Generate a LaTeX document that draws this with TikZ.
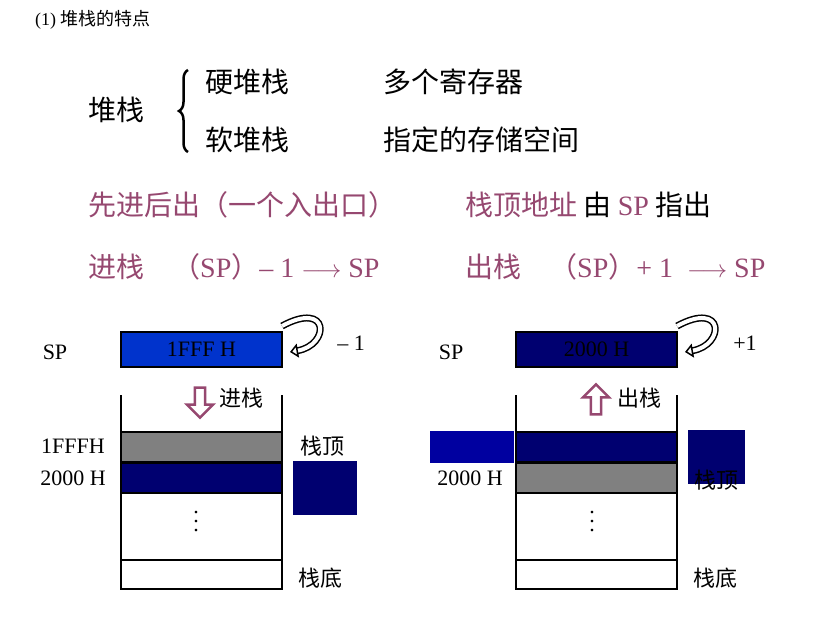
\documentclass[tikz,border=0pt]{standalone}
\usepackage{fontspec}
\setmainfont{Liberation Serif}
\newfontfamily\cjk{Noto Sans CJK SC}
\usetikzlibrary{arrows.meta}
\usetikzlibrary{positioning}
\usetikzlibrary{shapes.arrows}
\usetikzlibrary{decorations.pathreplacing}
\definecolor{plum}{RGB}{150,72,112}
\definecolor{regblue}{RGB}{0,51,204}
\definecolor{navy}{RGB}{0,0,112}
\definecolor{midblue}{RGB}{0,0,160}
\begin{document}
\begin{tikzpicture}
        [x=1pt,y=-1pt,
        big/.style={font=\fontsize{28}{30}\selectfont\cjk,anchor=west,inner sep=0},
        lbl/.style={font=\fontsize{22}{24}\selectfont,inner sep=0},
        dots/.style={font=\fontsize{22}{9}\selectfont,align=center,inner sep=0},
        reg/.style={rectangle,draw=black,line width=2.5pt,minimum width=161pt,minimum height=35pt,inner sep=0,font=\fontsize{22}{24}\selectfont},
        cell/.style={rectangle,draw=black,line width=2.5pt,minimum width=161pt,minimum height=30pt,inner sep=0},
        wall/.style={line width=2.5pt},
        hollow/.style={single arrow,draw=plum,fill=white,line width=2.5pt,minimum height=30pt,minimum width=26pt,single arrow head extend=5pt,inner sep=2pt},
        loop/.style={double=white,double distance=4pt,line width=1.5pt,-{Triangle[open,length=8pt,width=14pt]}}]
\useasboundingbox (0,0) rectangle (824,631);

% Heading %
\node[anchor=west,inner sep=0,font=\fontsize{18}{20}\selectfont] (title) at (35,20) {(1) {\cjk 堆栈的特点}};
\node[big] (dz) at (88,110) {堆栈};
\draw[line width=2.5pt,decorate,decoration={brace,amplitude=9pt,mirror}] (188,70) -- (188,152);
\node[big] (hard) at (205,82) {硬堆栈};
\node[big] (soft) at (205,140) {软堆栈};
\node[big] (regs) at (383,82) {多个寄存器};
\node[big] (mem) at (383,140) {指定的存储空间};
\node[big,text=plum] (lifo) at (88,205) {先进后出（一个入出口）};
\node[big] (top) at (465,205) {\textcolor{plum}{栈顶地址} 由 \textcolor{plum}{\rmfamily SP} 指出};
\node[big,text=plum] (push) at (88,267) {进栈\quad（{\rmfamily SP}）{\rmfamily – 1 $\longrightarrow$ SP}};
\node[big,text=plum] (pop) at (465,267) {出栈\quad（{\rmfamily SP}）{\rmfamily + 1 \ $\longrightarrow$ SP}};

% Left stack %
\node[lbl] (spl) at (55,352) {SP};
\node[reg,fill=regblue] (rl) at (201.5,349.5) {1FFF H};
\draw[loop] (282,326) .. controls (330,300) and (330,345) .. (290,352);
\node[lbl] (ml) at (351,343) {– 1};
\node[hollow,rotate=-90] (al) at (200,400) {};
\node[lbl,font=\fontsize{22}{24}\selectfont\cjk,anchor=west] (tl) at (219,398) {进栈};
\draw[wall] (121,395) -- (121,590);
\draw[wall] (282,395) -- (282,590);
\node[cell,fill=gray] (cl1) at (201.5,447) {};
\node[cell,fill=navy] (cl2) at (201.5,478) {};
\node[cell,minimum height=29pt] (cl3) at (201.5,574.5) {};
\node[dots] (dl) at (196,522) {.\\.\\.};
\node[lbl] (al1) at (73,446) {1FFFH};
\node[lbl] (al2) at (73,478) {2000 H};
\node[fill=navy,minimum width=64pt,minimum height=54pt,inner sep=0] (ql) at (325,488) {};
\node[lbl,font=\fontsize{22}{24}\selectfont\cjk] (stl) at (322,446) {栈顶};
\node[lbl,font=\fontsize{22}{24}\selectfont\cjk] (sbl) at (320,578) {栈底};

% Right stack %
\node[lbl] (spr) at (451,352) {SP};
\node[reg,fill=navy] (rr) at (596.5,349.5) {2000 H};
\draw[loop] (677,326) .. controls (725,300) and (725,345) .. (685,352);
\node[lbl] (mr) at (745,343) {+1};
\node[hollow,rotate=90] (ar) at (596,402) {};
\node[lbl,font=\fontsize{22}{24}\selectfont\cjk,anchor=west] (tr) at (617,398) {出栈};
\draw[wall] (516,395) -- (516,590);
\draw[wall] (677,395) -- (677,590);
\node[cell,fill=navy] (cr1) at (596.5,447) {};
\node[cell,fill=gray] (cr2) at (596.5,478) {};
\node[cell,minimum height=29pt] (cr3) at (596.5,574.5) {};
\node[dots] (dr) at (592,522) {.\\.\\.};
\node[fill=midblue,minimum width=84pt,minimum height=32pt,inner sep=0] (br) at (472,447) {};
\node[lbl] (ar2) at (470,478) {2000 H};
\node[fill=navy,minimum width=57pt,minimum height=54pt,inner sep=0] (qr) at (716.5,457) {};
\node[lbl,font=\fontsize{22}{24}\selectfont\cjk] (str) at (716,480) {栈顶};
\node[lbl,font=\fontsize{22}{24}\selectfont\cjk] (sbr) at (715,578) {栈底};
\end{tikzpicture}
\end{document}
